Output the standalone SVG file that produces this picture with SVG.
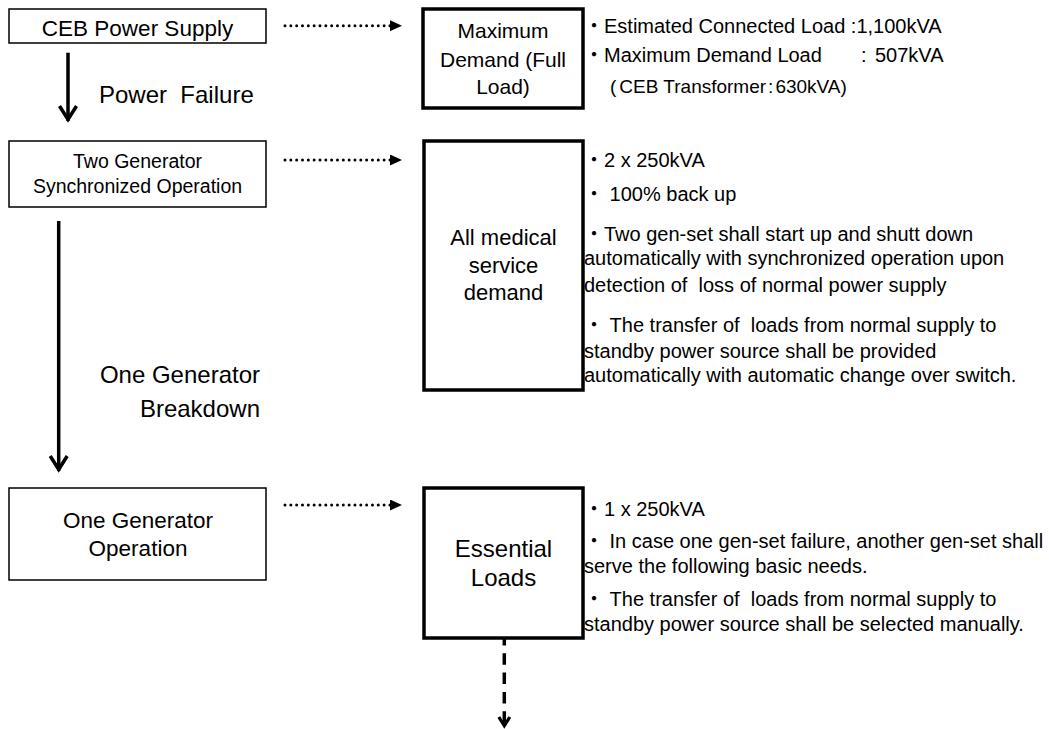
<svg xmlns="http://www.w3.org/2000/svg" width="1049" height="729" viewBox="0 0 1049 729">
<defs>
<style>
text { font-family: 'Liberation Sans','Noto Sans CJK JP',sans-serif; fill:#000; }
.thin { fill:#fff; stroke:#000; stroke-width:1.5; }
.thick { fill:#fff; stroke:#000; stroke-width:3.5; }
.c { text-anchor: middle; }
.dot { stroke:#000; stroke-width:3; stroke-linecap:round; stroke-dasharray:0 5.83; fill:none; }
.solid { stroke:#000; stroke-width:3.5; fill:none; }
.dash { stroke:#000; stroke-width:3.5; fill:none; stroke-dasharray:11.5 7.8; stroke-dashoffset:4; }
</style>
<marker id="tri" markerUnits="userSpaceOnUse" viewBox="0 0 12 11" markerWidth="12" markerHeight="11" refX="0" refY="5.5" orient="auto">
<path d="M0,0 L12,5.5 L0,11 Z" fill="#000"/>
</marker>
<marker id="chev" markerUnits="userSpaceOnUse" viewBox="-18 -12 22 24" markerWidth="22" markerHeight="24" refX="0" refY="0" orient="auto">
<path d="M-15,-8.5 L-1.5,0 L-15,8.5" fill="none" stroke="#000" stroke-width="3.5"/>
</marker>
<marker id="chevs" markerUnits="userSpaceOnUse" viewBox="-14 -9 16 18" markerWidth="16" markerHeight="18" refX="0" refY="0" orient="auto">
<path d="M-10,-5.5 L-1.2,0 L-10,5.5" fill="none" stroke="#000" stroke-width="3.2"/>
</marker>
</defs>
<rect width="1049" height="729" fill="#fff"/>

<g id="ceb">
<rect class="thin" x="9" y="9" width="257" height="34"/>
<text class="c" x="137.5" y="36" font-size="22.5">CEB Power Supply</text>
</g>
<g id="twogen">
<rect class="thin" x="9" y="141" width="257" height="66"/>
<text class="c" x="137.5" y="167.5" font-size="19.5">Two Generator</text>
<text class="c" x="137.5" y="193" font-size="19.5">Synchronized Operation</text>
</g>
<g id="onegen">
<rect class="thin" x="9" y="488" width="257" height="92"/>
<text class="c" x="138" y="528" font-size="22.5">One Generator</text>
<text class="c" x="138" y="556" font-size="22.5">Operation</text>
</g>

<g id="maxdemand">
<rect class="thick" x="423" y="9" width="160" height="99"/>
<text class="c" x="503" y="38" font-size="21">Maximum</text>
<text class="c" x="503" y="67" font-size="21">Demand (Full</text>
<text class="c" x="503" y="94" font-size="21">Load)</text>
</g>
<g id="maxdemand-notes">
<text x="584" y="33" font-size="20">・Estimated Connected Load :1,100kVA</text>
<text x="584" y="62" font-size="20">・Maximum Demand Load<tspan x="861">:</tspan><tspan x="875">507kVA</tspan></text>
<text x="610" y="93" font-size="19">(<tspan dx="3">CEB Transformer</tspan><tspan dx="2">:</tspan><tspan dx="2">630kVA)</tspan></text>
</g>

<g id="allmedical">
<rect class="thick" x="424" y="141" width="159" height="249"/>
<text class="c" x="503.5" y="245" font-size="22">All medical</text>
<text class="c" x="503.5" y="273" font-size="22">service</text>
<text class="c" x="503.5" y="300" font-size="22">demand</text>
</g>
<g id="allmedical-notes">
<text x="584" y="167" font-size="20">・2 x 250kVA</text>
<text x="584" y="201" font-size="20">・ 100% back up</text>
<text x="584" y="241" font-size="20">・Two gen-set shall start up and shutt down</text>
<text x="584" y="265" font-size="20">automatically with synchronized operation upon</text>
<text x="584" y="292" font-size="20" xml:space="preserve">detection of  loss of normal power supply</text>
<text x="584" y="332" font-size="20" xml:space="preserve">・ The transfer of  loads from normal supply to</text>
<text x="584" y="358" font-size="20">standby power source shall be provided</text>
<text x="584" y="382" font-size="20">automatically with automatic change over switch.</text>
</g>

<g id="essential">
<rect class="thick" x="424" y="488" width="159" height="150"/>
<text class="c" x="503.5" y="557" font-size="24">Essential</text>
<text class="c" x="503.5" y="586" font-size="24">Loads</text>
</g>
<g id="essential-notes">
<text x="584" y="516" font-size="20">・1 x 250kVA</text>
<text x="584" y="548" font-size="20">・ In case one gen-set failure, another gen-set shall</text>
<text x="584" y="573" font-size="20">serve the following basic needs.</text>
<text x="584" y="606" font-size="20" xml:space="preserve">・ The transfer of  loads from normal supply to</text>
<text x="584" y="631" font-size="20">standby power source shall be selected manually.</text>
</g>

<g id="labels">
<text x="99" y="103" font-size="24" xml:space="preserve">Power  Failure</text>
<text x="260" y="383" font-size="24" text-anchor="end">One Generator</text>
<text x="260" y="417" font-size="24" text-anchor="end">Breakdown</text>
</g>

<g id="connectors">
<line class="solid" x1="68" y1="52.7" x2="68" y2="121" marker-end="url(#chev)"/>
<line class="solid" x1="58.7" y1="221" x2="58.7" y2="471" marker-end="url(#chev)"/>
<line class="dot" x1="285" y1="25.7" x2="390" y2="25.7" marker-end="url(#tri)"/>
<line class="dot" x1="285" y1="160" x2="390" y2="160" marker-end="url(#tri)"/>
<line class="dot" x1="285" y1="505" x2="390" y2="505" marker-end="url(#tri)"/>
<line class="dash" x1="504.3" y1="638" x2="504.3" y2="727" marker-end="url(#chevs)"/>
</g>
</svg>
